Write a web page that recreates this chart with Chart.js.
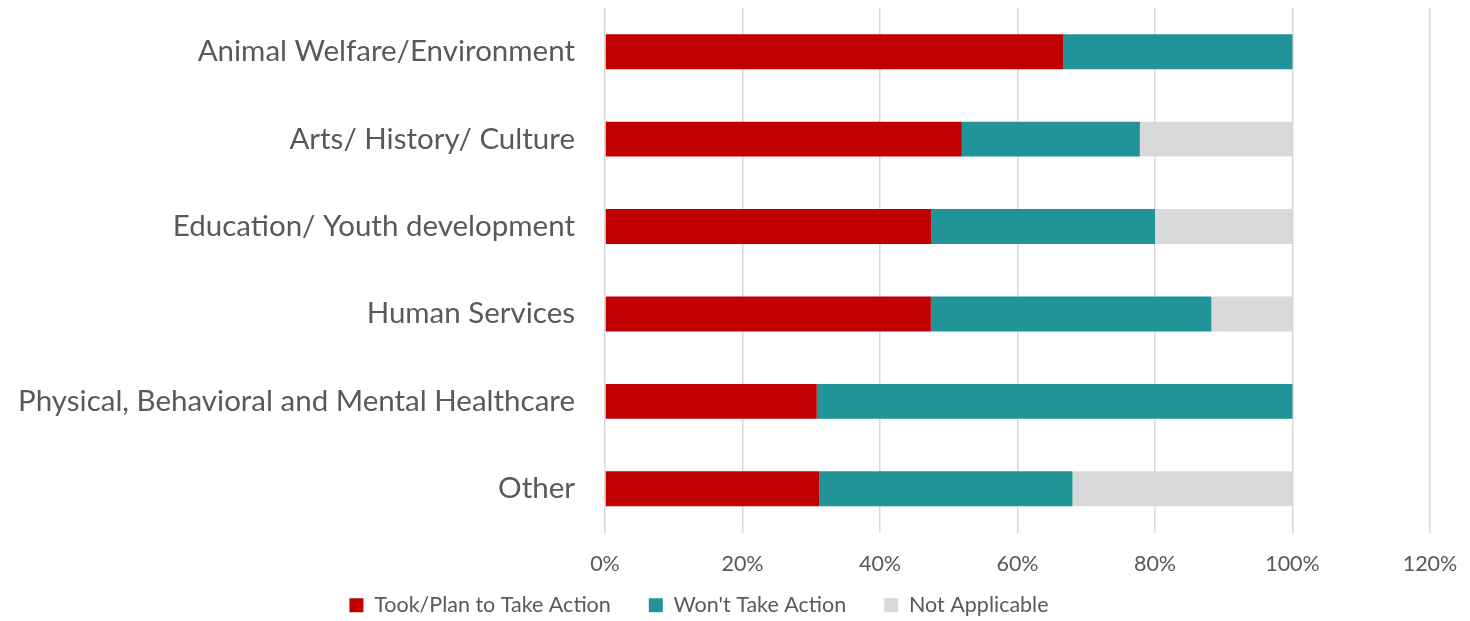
<!DOCTYPE html>
<html>
<head>
<meta charset="utf-8">
<script src="https://cdn.jsdelivr.net/npm/chart.js@4/dist/chart.umd.min.js"></script>
<style>
  html, body { margin: 0; padding: 0; background: #ffffff; }
  #wrap { width: 1470px; height: 621px; }
</style>
</head>
<body>
<div id="wrap"><canvas id="chart" width="1470" height="621"></canvas></div>
<script>
// Cause areas (rows, top to bottom)
const categories = [
  'Animal Welfare/Environment',
  'Arts/ History/ Culture',
  'Education/ Youth development',
  'Human Services',
  'Physical, Behavioral and Mental Healthcare',
  'Other'
];

// Share of respondents per response, in percent
const tookAction    = [66.7, 51.9, 47.5, 47.4, 30.8, 31.2];
const wontAction    = [33.3, 25.9, 32.5, 40.8, 69.2, 36.8];
const notApplicable = [0.0, 22.2, 20.0, 11.8, 0.0, 32.0];

const seriesNames = ['Took/Plan to Take Action', "Won't Take Action", 'Not Applicable'];
const axisTicks = [0, 20, 40, 60, 80, 100, 120];

const FONT = 'Lato, "Open Sans", sans-serif';
const TEXT = '#595959';

// Re-position the legend row: a bit left of page centre and tucked up under the axis labels
const legendShift = {
  id: 'legendShift',
  afterLayout(chart) {
    const lg = chart.legend;
    if (lg) { lg.left -= 16; lg.right -= 16; lg.top -= 21; lg.bottom -= 21; }
  }
};

new Chart(document.getElementById('chart'), {
  type: 'bar',
  data: {
    labels: categories,
    datasets: [
      { label: seriesNames[0], data: tookAction, backgroundColor: '#C00000' },
      { label: seriesNames[1], data: wontAction, backgroundColor: '#209498' },
      { label: seriesNames[2], data: notApplicable, backgroundColor: '#D9D9D9' }
    ]
  },
  options: {
    indexAxis: 'y',
    responsive: false,
    animation: false,
    maintainAspectRatio: false,
    datasets: { bar: { categoryPercentage: 1.0, barPercentage: 0.4 } },
    layout: { padding: { top: 8, right: 40, left: 0, bottom: -26 } },
    scales: {
      x: {
        stacked: true,
        min: axisTicks[0],
        max: axisTicks[axisTicks.length - 1],
        afterBuildTicks(scale) { scale.ticks = axisTicks.map(v => ({ value: v })); },
        afterFit(scale) {
          scale.paddingLeft = 0;
          scale.paddingRight = 0;
          scale.height = 45;
        },
        grid: { color: '#D9D9D9', lineWidth: 1.5, drawTicks: false },
        border: { display: false },
        ticks: {
          padding: 19,
          color: TEXT,
          font: { family: FONT, size: 21.5 },
          callback: v => v + '%'
        }
      },
      y: {
        stacked: true,
        afterFit(scale) {
          scale.width = 605;
          scale.paddingTop = 0;
          scale.paddingBottom = 0;
        },
        grid: { display: false, drawTicks: false },
        border: { display: false },
        ticks: {
          padding: 30,
          color: TEXT,
          font: { family: FONT, size: 29.5 }
        }
      }
    },
    plugins: {
      tooltip: { enabled: false },
      legend: {
        position: 'bottom',
        labels: {
          boxWidth: 14,
          boxHeight: 14,
          padding: 38,
          color: TEXT,
          font: { family: FONT, size: 21.5 }
        }
      }
    }
  },
  plugins: [legendShift]
});
</script>
</body>
</html>
